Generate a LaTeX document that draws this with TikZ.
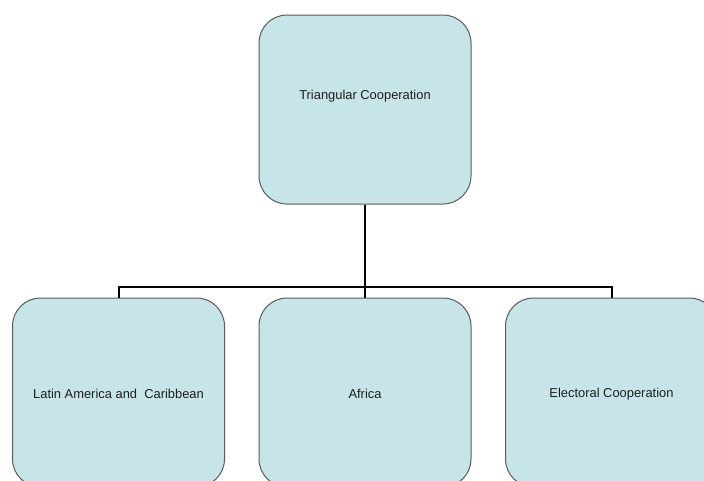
\documentclass[tikz,border=0pt]{standalone}
\usepackage{fontspec}
\setmainfont{Liberation Sans}
\definecolor{boxfill}{RGB}{199,229,232}
\definecolor{boxline}{RGB}{90,90,90}
\definecolor{txt}{RGB}{30,30,30}
\tikzset{
  box/.style={draw=boxline, fill=boxfill, line width=1pt, rounded corners=28pt,
    minimum width=212pt, minimum height=189pt, inner sep=0pt},
  lbl/.style={text=txt, font=\fontsize{12.9}{15}\selectfont, inner sep=0pt},
  conn/.style={draw=black, line width=2pt, line join=miter}
}
\begin{document}
\begin{tikzpicture}[x=1pt,y=-1pt]
\useasboundingbox (0,0) rectangle (704,480);
\node[box] (top) at (365,109.5) {};
\node[lbl] (toptext) at (365,96) {Triangular Cooperation};
\node[box] (left) at (118.5,392.5) {};
\node[lbl] (lefttext) at (118.5,394) {Latin America and~~Caribbean};
\node[box] (mid) at (365,392.5) {};
\node[lbl] (midtext) at (365,394) {Africa};
\node[box] (right) at (611.5,392.5) {};
\node[lbl] (righttext) at (611.5,394) {Electoral Cooperation};
\coordinate (bus) at (365,287);
\draw[conn] (top.south) -- (bus);
\draw[conn] (left.north) |- (bus) -| (right.north);
\draw[conn] (bus) -- (mid.north);
\end{tikzpicture}
\end{document}
